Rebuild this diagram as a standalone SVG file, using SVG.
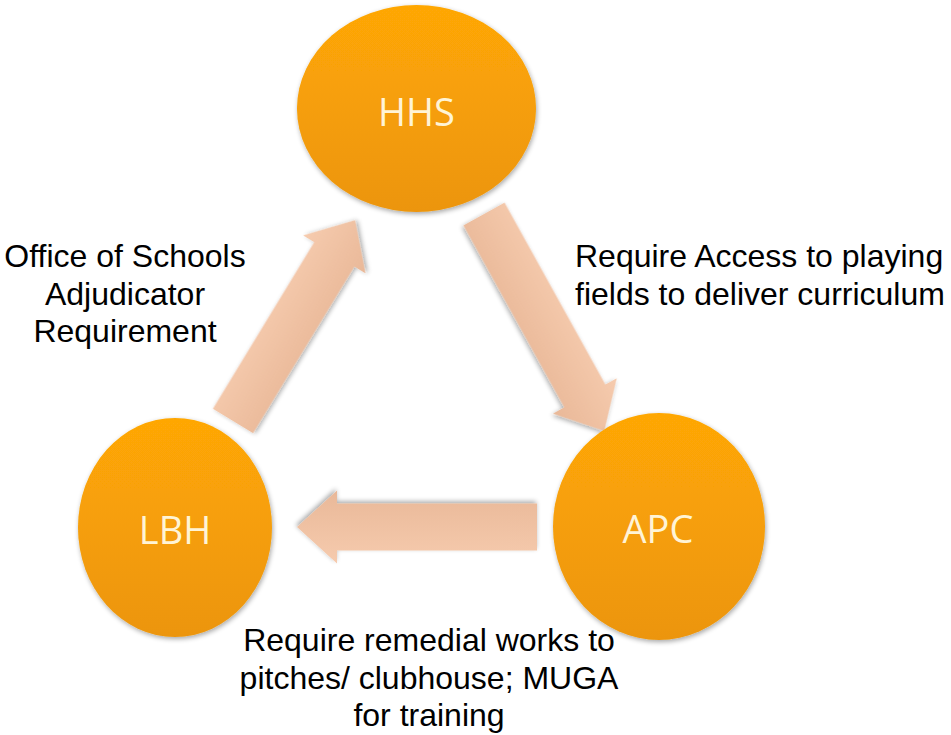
<svg xmlns="http://www.w3.org/2000/svg" width="951" height="735" viewBox="0 0 951 735">
<defs>
<linearGradient id="gOrange" x1="0" y1="0" x2="0" y2="1">
<stop offset="0" stop-color="#FFA706"/>
<stop offset="1" stop-color="#EC9509"/>
</linearGradient>
<linearGradient id="gPeach" x1="0" y1="0" x2="0" y2="1">
<stop offset="0" stop-color="#F6CBAE"/>
<stop offset="1" stop-color="#E9B898"/>
</linearGradient>
<filter id="shadow" x="-20%" y="-20%" width="140%" height="140%">
<feGaussianBlur in="SourceAlpha" stdDeviation="2.5"/>
<feOffset dx="1" dy="2" result="b"/>
<feComponentTransfer><feFuncA type="linear" slope="0.35"/></feComponentTransfer>
<feMerge><feMergeNode/><feMergeNode in="SourceGraphic"/></feMerge>
</filter>
</defs>
<style>
.node{fill:url(#gOrange);filter:url(#shadow)}
.nlabel{font-family:"Open Sans","Noto Sans","Liberation Sans",sans-serif;font-size:38px;fill:#FFF4D6;text-anchor:middle}
.arrow{fill:url(#gPeach);filter:url(#shadow)}
.elabel{font-family:"Liberation Sans",Arial,sans-serif;font-size:32px;fill:#000}
</style>
<rect width="951" height="735" fill="#fff"/>
<g id="connectors">
<path class="arrow" transform="translate(537,527) rotate(180)" d="M0,-23.5 H200 V-36.5 L240,0 L200,36.5 V23.5 H0 Z"/>
<path class="arrow" transform="translate(233,421) rotate(-58.7)" d="M0,-23.5 H195 V-36.5 L235,0 L195,36.5 V23.5 H0 Z"/>
<path class="arrow" transform="translate(484,214) rotate(61)" d="M0,-23.5 H208 V-36.5 L248,0 L208,36.5 V23.5 H0 Z"/>
</g>
<g id="HHS">
<ellipse class="node" cx="416.5" cy="108.5" rx="119.5" ry="103.5"/>
<text class="nlabel" x="416.5" y="126">HHS</text>
</g>
<g id="LBH">
<ellipse class="node" cx="175" cy="527.5" rx="97" ry="109.5"/>
<text class="nlabel" x="175" y="544">LBH</text>
</g>
<g id="APC">
<ellipse class="node" cx="659" cy="526.5" rx="106" ry="113.5"/>
<text class="nlabel" x="658" y="543">APC</text>
</g>
<g id="edge-labels">
<text class="elabel" text-anchor="middle"><tspan x="125" y="267">Office of Schools</tspan><tspan x="125" y="304.5">Adjudicator</tspan><tspan x="125" y="342">Requirement</tspan></text>
<text class="elabel"><tspan x="575" y="267">Require Access to playing</tspan><tspan x="575" y="304.5">fields to deliver curriculum</tspan></text>
<text class="elabel" text-anchor="middle"><tspan x="429" y="651">Require remedial works to</tspan><tspan x="429" y="688.5">pitches/ clubhouse; MUGA</tspan><tspan x="429" y="726">for training</tspan></text>
</g>
</svg>
